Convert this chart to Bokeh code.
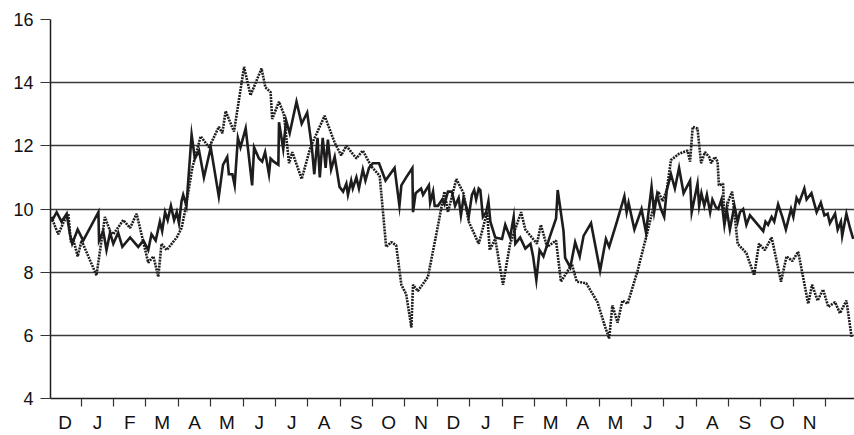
from bokeh.plotting import figure
from bokeh.models import Range1d, FixedTicker
from bokeh.embed import file_html
from bokeh.resources import INLINE

# Month labels along the x axis (two years, Dec to Nov)
month_labels = ["D", "J", "F", "M", "A", "M", "J", "J", "A", "S", "O", "N",
                "D", "J", "F", "M", "A", "M", "J", "J", "A", "S", "O", "N"]
y_ticks = [4, 6, 8, 10, 12, 14, 16]

# Solid series: time (months from start of first December) and value
solid_x = [0.08, 0.24, 0.39, 0.55, 0.65, 0.72, 0.89, 1.06, 1.53, 1.55, 1.68, 1.78, 1.89, 1.99,
           2.14, 2.27, 2.51, 2.76, 2.92, 3.07, 3.17, 3.30, 3.43, 3.50, 3.59, 3.67, 3.77, 3.87,
           3.95, 4.02, 4.10, 4.15, 4.25, 4.41, 4.51, 4.64, 4.79, 5.00, 5.25, 5.38, 5.51, 5.56,
           5.67, 5.74, 5.84, 5.92, 6.08, 6.28, 6.34, 6.49, 6.59, 6.68, 6.80, 6.85, 6.95, 7.09,
           7.11, 7.24, 7.33, 7.44, 7.65, 7.81, 7.98, 8.12, 8.20, 8.30, 8.37, 8.46, 8.55, 8.62,
           8.72, 8.83, 8.98, 9.09, 9.19, 9.24, 9.34, 9.39, 9.50, 9.58, 9.70, 9.78, 9.89, 10.01,
           10.20, 10.40, 10.68, 10.83, 10.89, 11.04, 11.23, 11.25, 11.33, 11.50, 11.56, 11.74,
           11.78, 11.87, 11.92, 12.02, 12.15, 12.22, 12.33, 12.45, 12.55, 12.66, 12.73, 12.81,
           12.89, 12.97, 13.07, 13.14, 13.20, 13.28, 13.33, 13.41, 13.51, 13.58, 13.64, 13.79,
           14.00, 14.10, 14.25, 14.36, 14.41, 14.56, 14.72, 14.88, 14.96, 15.06, 15.16, 15.28,
           15.47, 15.67, 15.72, 15.90, 15.95, 16.11, 16.26, 16.40, 16.52, 16.75, 17.03, 17.21,
           17.31, 17.52, 17.78, 17.85, 17.91, 18.09, 18.31, 18.45, 18.62, 18.70, 18.79, 18.91,
           19.01, 19.09, 19.22, 19.34, 19.47, 19.61, 19.81, 19.86, 19.94, 20.04, 20.09, 20.16,
           20.25, 20.33, 20.43, 20.50, 20.61, 20.68, 20.78, 20.87, 20.94, 21.04, 21.18, 21.28,
           21.35, 21.45, 21.55, 21.66, 22.07, 22.14, 22.22, 22.33, 22.41, 22.53, 22.66, 22.77,
           22.93, 23.00, 23.10, 23.18, 23.34, 23.41, 23.56, 23.72, 23.85, 23.96, 24.06, 24.13,
           24.29, 24.37, 24.47, 24.51, 24.64, 24.75, 24.85]
solid_y = [9.6, 9.9, 9.6, 9.85, 9.2, 8.9, 9.35, 9.0, 9.9, 9.0, 9.3, 8.7, 9.25, 8.9,
           9.25, 8.8, 9.1, 8.8, 9.0, 8.7, 9.2, 9.0, 9.6, 9.3, 9.9, 9.65, 10.1, 9.65,
           9.9, 9.55, 10.25, 10.45, 10.1, 12.35, 11.6, 11.85, 11.0, 11.95, 10.4, 11.4, 11.65, 11.1,
           11.1, 10.75, 12.25, 11.95, 12.55, 10.75, 11.95, 11.6, 11.5, 11.8, 11.1, 11.6, 11.5, 11.4,
           12.75, 11.9, 12.8, 12.4, 13.4, 12.7, 13.05, 12.0, 11.1, 12.25, 11.0, 12.25, 11.3, 12.2,
           11.25, 11.65, 10.7, 10.55, 10.8, 10.45, 10.9, 10.65, 11.0, 10.65, 11.25, 10.9, 11.3, 11.45,
           11.45, 10.9, 11.3, 10.1, 10.75, 11.0, 11.3, 9.9, 10.5, 10.65, 10.45, 10.75,
           10.2, 10.55, 10.1, 10.1, 10.3, 10.15, 10.55, 10.55, 10.1, 10.35, 9.8, 10.35,
           10.1, 9.75, 10.45, 10.6, 10.3, 10.65, 10.6, 9.75, 9.9, 10.25, 9.6, 9.1,
           9.05, 9.5, 9.1, 9.75, 8.9, 9.1, 8.75, 8.9, 8.5, 7.75, 8.7, 8.5,
           9.1, 9.7, 10.6, 9.3, 8.45, 8.15, 8.95, 8.5, 9.15, 9.55, 8.05, 9.05,
           8.8, 9.5, 10.4, 9.9, 10.2, 9.35, 10.0, 9.25, 10.7, 9.9, 10.45, 10.0,
           9.75, 10.6, 11.1, 10.65, 11.3, 10.5, 10.9, 9.9, 10.3, 10.8, 10.1, 10.5,
           10.1, 10.45, 9.9, 10.3, 10.05, 10.0, 10.3, 9.5, 10.0, 9.35, 10.1, 9.6,
           9.9, 10.0, 9.5, 9.8, 9.3, 9.6, 9.5, 9.75, 9.6, 10.15, 9.75, 9.35,
           10.0, 9.75, 10.35, 10.2, 10.65, 10.3, 10.5, 9.9, 10.2, 9.8, 9.85, 9.55,
           9.85, 9.35, 9.6, 9.15, 9.85, 9.4, 9.05]

# Dotted series
dotted_x = [0.08, 0.19, 0.29, 0.44, 0.60, 0.68, 0.75, 0.89, 1.01, 1.47, 1.73, 1.89, 1.99, 2.30,
            2.51, 2.71, 3.07, 3.23, 3.38, 3.48, 3.64, 3.95, 4.10, 4.22, 4.43, 4.69, 4.95, 5.25,
            5.36, 5.46, 5.72, 6.03, 6.23, 6.57, 6.69, 6.85, 6.90, 7.11, 7.26, 7.42, 7.52, 7.81,
            8.08, 8.32, 8.52, 8.83, 9.03, 9.19, 9.50, 9.70, 9.96, 10.22, 10.42, 10.58, 10.73, 10.89,
            11.04, 11.20, 11.25, 11.40, 11.71, 11.97, 12.22, 12.33, 12.59, 12.81, 12.97, 13.28,
            13.54, 13.62, 13.79, 14.03, 14.25, 14.59, 14.72, 15.08, 15.20, 15.39, 15.67, 15.82,
            16.16, 16.31, 16.60, 16.95, 17.16, 17.31, 17.41, 17.57, 17.72, 17.88, 18.19, 18.50,
            18.70, 18.83, 18.96, 19.09, 19.22, 19.47, 19.73, 19.81, 19.89, 20.04, 20.15, 20.27,
            20.40, 20.46, 20.58, 20.66, 20.70, 20.83, 20.87, 20.99, 21.11, 21.28, 21.55, 21.79,
            21.94, 22.12, 22.33, 22.62, 22.79, 22.97, 23.15, 23.46, 23.58, 23.75, 23.92, 24.08,
            24.29, 24.44, 24.64, 24.80]
dotted_y = [9.75, 9.45, 9.2, 9.55, 9.85, 8.95, 9.05, 8.5, 9.0, 7.9, 9.75, 9.3, 9.2, 9.65,
            9.4, 9.85, 8.3, 8.5, 7.85, 8.9, 8.7, 9.1, 9.4, 10.0, 11.3, 12.3, 11.95, 12.6,
            12.4, 13.1, 12.45, 14.5, 13.6, 14.45, 13.85, 13.7, 12.85, 13.4, 13.0, 11.45, 11.8, 10.95,
            11.95, 12.5, 12.95, 12.1, 11.7, 12.0, 11.6, 11.85, 11.35, 11.05, 8.8, 8.95, 8.85, 7.6,
            7.3, 6.25, 7.6, 7.4, 7.85, 9.2, 10.55, 9.9, 10.95, 10.5, 9.6, 8.9,
            9.9, 8.7, 9.05, 7.6, 8.9, 9.9, 9.35, 8.9, 9.5, 8.8, 9.0, 7.7,
            8.25, 7.7, 7.65, 7.05, 6.35, 5.9, 6.95, 6.4, 7.1, 7.0, 8.05, 9.3,
            10.15, 10.55, 10.25, 10.6, 11.55, 11.75, 11.85, 11.5, 12.6, 12.55, 11.45, 11.8,
            11.65, 11.45, 11.65, 11.5, 10.75, 10.8, 9.5, 10.25, 10.55, 8.9, 8.6, 7.9,
            8.9, 8.7, 9.1, 7.7, 8.5, 8.35, 8.65, 7.0, 7.6, 7.1, 7.45, 6.9,
            7.05, 6.7, 7.1, 5.95]

FONT = "Liberation Sans"
INK = "#1e1c1d"

p = figure(width=854, height=435, output_backend="svg", toolbar_location=None,
           x_range=Range1d(0.05, 24.89), y_range=Range1d(4, 16),
           min_border_left=50, min_border_right=0, min_border_top=19, min_border_bottom=33)
p.outline_line_color = None
p.background_fill_color = "white"
p.border_fill_color = "white"

# y axis
p.yaxis.ticker = FixedTicker(ticks=y_ticks, minor_ticks=[])
p.yaxis.major_tick_out = 10
p.yaxis.major_tick_in = 0
p.yaxis.major_tick_line_color = "#333333"
p.yaxis.axis_line_color = INK
p.yaxis.axis_line_width = 1.5
p.yaxis.major_label_text_font = FONT
p.yaxis.major_label_text_font_size = "18px"
p.yaxis.major_label_text_color = "#111111"
p.yaxis.major_label_standoff = 7

# x axis: labels centred in months, ticks at month boundaries
label_pos = [i + 0.5 for i in range(len(month_labels))]
p.xaxis.ticker = FixedTicker(ticks=label_pos, minor_ticks=list(range(1, len(month_labels) + 1)))
p.xaxis.major_label_overrides = {pos: lab for pos, lab in zip(label_pos, month_labels)}
p.xaxis.major_tick_line_color = None
p.xaxis.major_tick_out = 8
p.xaxis.major_tick_in = 0
p.xaxis.minor_tick_out = 8
p.xaxis.minor_tick_in = 0
p.xaxis.minor_tick_line_color = "#333333"
p.xaxis.minor_tick_line_width = 1.2
p.xaxis.axis_line_color = INK
p.xaxis.axis_line_width = 1.5
p.xaxis.major_label_text_font = FONT
p.xaxis.major_label_text_font_size = "19px"
p.xaxis.major_label_text_color = "#111111"
p.xaxis.major_label_standoff = 5

p.xgrid.grid_line_color = None
p.ygrid.ticker = FixedTicker(ticks=y_ticks)
p.ygrid.grid_line_color = "#3a3a3a"
p.ygrid.grid_line_width = 1.3

p.line(dotted_x, dotted_y, line_color=INK, line_width=2.6, line_dash="2 1")
p.line(solid_x, solid_y, line_color=INK, line_width=2.6, line_join="miter")

open("out.html", "w").write(file_html(p, INLINE))
